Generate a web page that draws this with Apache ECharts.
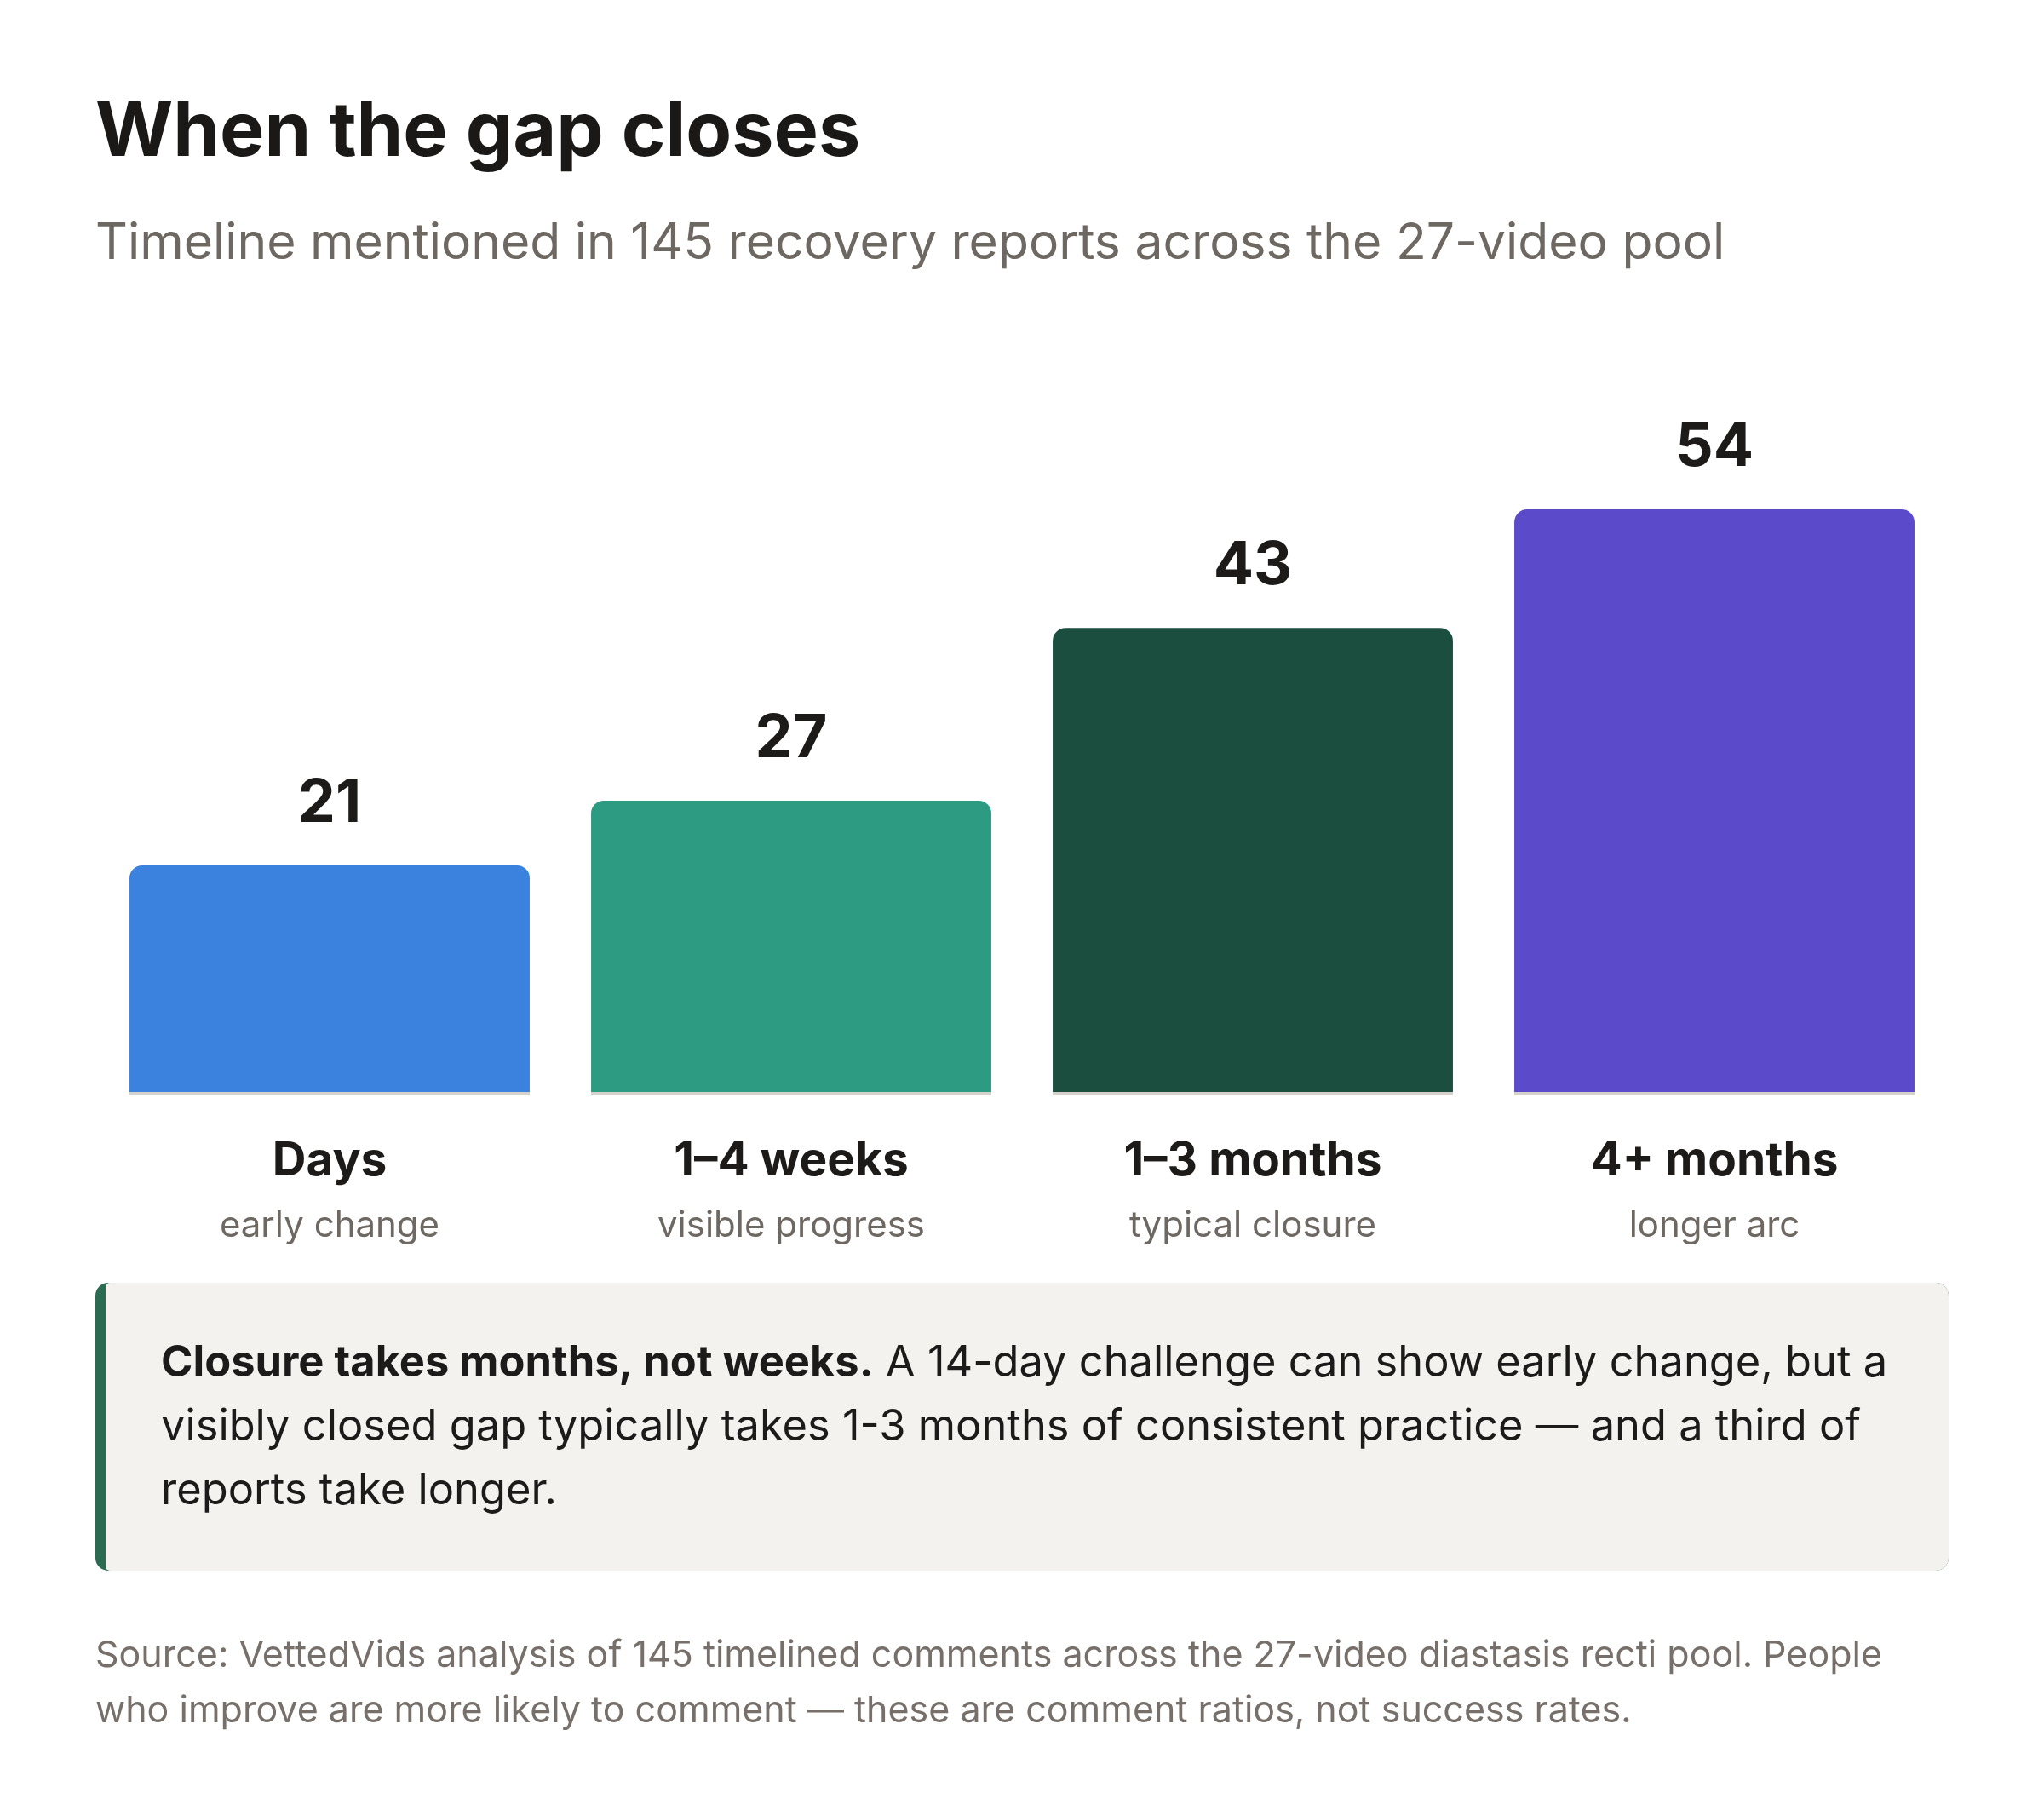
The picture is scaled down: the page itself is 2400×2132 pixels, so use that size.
<!DOCTYPE html>
<html>
<head>
<meta charset="utf-8">
<script src="https://cdn.jsdelivr.net/npm/echarts@6/dist/echarts.min.js"></script>
<style>
  html, body { margin: 0; padding: 0; background: #ffffff; }
  #chart { width: 2400px; height: 2132px; }
</style>
</head>
<body>
<div id="chart"></div>
<script>
const titleText = 'When the gap closes';
const subtitleText = 'Timeline mentioned in 145 recovery reports across the 27-video pool';
const categories = ['Days', '1–4 weeks', '1–3 months', '4+ months'];
const subLabels = ['early change', 'visible progress', 'typical closure', 'longer arc'];
const counts = [21, 27, 43, 54];
const barColors = ['#3b82df', '#2d9b81', '#1c4e40', '#5b4bcb'];
const baseStrip = [-0.32, -0.32, -0.32, -0.32];
const calloutBold = 'Closure takes months, not weeks.';
const calloutLines = [
  ' A 14-day challenge can show early change, but a',
  'visibly closed gap typically takes 1-3 months of consistent practice — and a third of',
  'reports take longer.'
];
const footerLines = [
  'Source: VettedVids analysis of 145 timelined comments across the 27-video diastasis recti pool. People',
  'who improve are more likely to comment — these are comment ratios, not success rates.'
];

const FONT = 'Inter, "Noto Sans", sans-serif';
const chart = echarts.init(document.getElementById('chart'), null, { renderer: 'canvas' });

const option = {
  backgroundColor: '#ffffff',
  animation: false,
  grid: { left: 116, right: 116, top: 522, bottom: 846, containLabel: false },
  xAxis: {
    type: 'category',
    data: categories,
    axisLine: { show: false },
    axisTick: { show: false },
    axisLabel: {
      margin: 42,
      interval: 0,
      formatter: function (v, i) { return '{a|' + v + '}\n{b|' + subLabels[i] + '}'; },
      rich: {
        a: { fontFamily: FONT, fontWeight: 700, fontSize: 55, lineHeight: 70, color: '#1c1b19' },
        b: { fontFamily: FONT, fontWeight: 400, fontSize: 42, lineHeight: 82, color: '#6e6862' }
      }
    }
  },
  yAxis: {
    type: 'value',
    min: -0.32,
    max: 60,
    show: false,
    splitLine: { show: false }
  },
  series: [
    {
      type: 'bar',
      name: 'base',
      data: baseStrip,
      barWidth: '86.7%',
      barGap: '-100%',
      itemStyle: { color: '#d5d2cd' },
      silent: true,
      z: 1
    },
    {
      type: 'bar',
      name: 'reports',
      data: counts.map(function (v, i) {
        return { value: v, itemStyle: { color: barColors[i] } };
      }),
      barWidth: '86.7%',
      barGap: '-100%',
      itemStyle: { borderRadius: [15, 15, 0, 0] },
      label: {
        show: true,
        position: 'top',
        distance: 37,
        formatter: '{c}',
        fontFamily: FONT,
        fontWeight: 700,
        fontSize: 70,
        lineHeight: 70,
        color: '#1c1b19'
      },
      z: 2
    }
  ],
  graphic: [
    {
      type: 'text', left: 112, top: 113,
      style: { text: titleText, font: '700 88px ' + FONT, fill: '#1a1917', lineHeight: 88 }
    },
    {
      type: 'text', left: 112, top: 257,
      style: { text: subtitleText, font: '400 58.8px ' + FONT, fill: '#6e6862', lineHeight: 59 }
    },
    {
      type: 'rect', shape: { x: 112, y: 1506, width: 2176, height: 338, r: 15 },
      style: { fill: '#2a6b52' }
    },
    {
      type: 'rect', shape: { x: 124, y: 1506, width: 2164, height: 338, r: [5, 15, 15, 5] },
      style: { fill: '#f3f2ef' }
    },
    {
      type: 'text', left: 189, top: 1575,
      style: {
        text: '{b|' + calloutBold + '}{n|' + calloutLines[0] + '}\n{n|' + calloutLines[1] + '}\n{n|' + calloutLines[2] + '}',
        rich: {
          b: { font: '700 50.6px ' + FONT, fill: '#1c1b19', lineHeight: 75 },
          n: { font: '400 50.6px ' + FONT, fill: '#1c1b19', lineHeight: 75 }
        }
      }
    },
    {
      type: 'text', left: 112, top: 1912,
      style: {
        text: footerLines.join('\n'),
        font: '400 43px ' + FONT, fill: '#77706a', lineHeight: 65
      }
    }
  ]
};
chart.setOption(option);
</script>
</body>
</html>
